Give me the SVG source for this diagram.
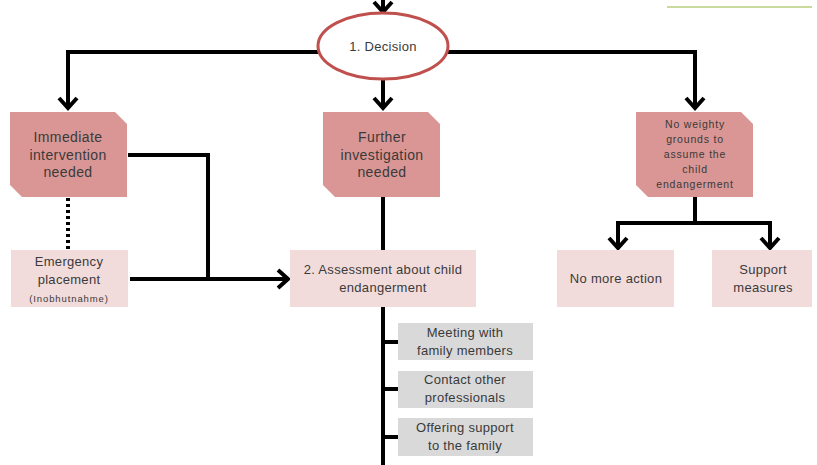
<svg xmlns="http://www.w3.org/2000/svg" width="817" height="465" viewBox="0 0 817 465">
<style>
.dark{fill:#D99694;}
.light{fill:#F2DCDB;}
.gray{fill:#D9D9D9;}
.t{font-family:"Liberation Sans",Arial,sans-serif;fill:#3a3a3a;text-anchor:middle;}
.big{font-size:14px;letter-spacing:0.4px;}
.med{font-size:13px;letter-spacing:0.3px;}
.sm{font-size:10.5px;letter-spacing:0.8px;}
.xs{font-size:9.5px;letter-spacing:0.9px;}
.ln{fill:none;stroke:#000;stroke-width:4;}
.arw{marker-end:url(#arr);}
.dot{fill:none;stroke:#000;stroke-width:4;stroke-dasharray:3 3;}
</style>
<defs>
<marker id="arr" viewBox="-14 -12 16 24" markerWidth="16" markerHeight="24" refX="0" refY="0" orient="auto" markerUnits="userSpaceOnUse">
<path d="M-11,-9 L-1,0 L-11,9" fill="none" stroke="#000" stroke-width="4"/>
</marker>
</defs>
<rect x="0" y="0" width="817" height="465" fill="#fff"/>
<line x1="667" y1="7" x2="812" y2="7" stroke="#C8DA9E" stroke-width="2"/>
<g id="connectors">
<path class="ln arw" d="M383,0 V13"/>
<path class="ln arw" d="M318,52 H68 V109"/>
<path class="ln arw" d="M383,80 V109"/>
<path class="ln arw" d="M447,52 H695 V109"/>
<path class="dot" d="M68,198 V250"/>
<path class="ln" d="M128,155 H208 V279"/>
<path class="ln arw" d="M130,279 H289"/>
<path class="ln" d="M383,197 V250"/>
<path class="ln" d="M383,307 V465"/>
<path class="ln" d="M383,342 H398 M383,389 H398 M383,437 H398"/>
<path class="ln" d="M695,197 V223"/>
<path class="ln arw" d="M618,223 V249"/>
<path class="ln arw" d="M770,223 V249"/>
<path class="ln" d="M616,223 H772"/>
</g>
<g id="decision">
<ellipse cx="383" cy="46" rx="65" ry="33" fill="#fff" stroke="#C0504D" stroke-width="3"/>
<text class="t med" x="383" y="51">1. Decision</text>
</g>
<g id="immediate">
<path class="dark" d="M10,112 H115 L127,124 V197 H22 L10,185 Z"/>
<text class="t big" x="68" y="142">Immediate</text>
<text class="t big" x="68" y="160">intervention</text>
<text class="t big" x="68" y="177">needed</text>
</g>
<g id="further">
<path class="dark" d="M323,112 H428 L440,124 V197 H335 L323,185 Z"/>
<text class="t big" x="382" y="142">Further</text>
<text class="t big" x="382" y="160">investigation</text>
<text class="t big" x="382" y="177">needed</text>
</g>
<g id="noweighty">
<path class="dark" d="M636,112 H741 L753,124 V197 H648 L636,185 Z"/>
<text class="t sm" x="695" y="128">No weighty</text>
<text class="t sm" x="695" y="143">grounds to</text>
<text class="t sm" x="695" y="158">assume the</text>
<text class="t sm" x="695" y="173">child</text>
<text class="t sm" x="695" y="188">endangerment</text>
</g>
<g id="emergency">
<rect class="light" x="11" y="250" width="117" height="57"/>
<text class="t med" x="69" y="266">Emergency</text>
<text class="t med" x="69" y="284">placement</text>
<text class="t xs" x="69" y="302">(Inobhutnahme)</text>
</g>
<g id="assessment">
<rect class="light" x="290" y="250" width="186" height="57"/>
<text class="t med" x="383" y="274">2. Assessment about child</text>
<text class="t med" x="383" y="292">endangerment</text>
</g>
<g id="meeting">
<rect class="gray" x="398" y="323" width="135" height="37"/>
<text class="t med" x="465" y="337">Meeting with</text>
<text class="t med" x="465" y="355">family members</text>
</g>
<g id="contact">
<rect class="gray" x="398" y="371" width="135" height="37"/>
<text class="t med" x="465" y="384">Contact other</text>
<text class="t med" x="465" y="402">professionals</text>
</g>
<g id="offering">
<rect class="gray" x="398" y="418" width="135" height="38"/>
<text class="t med" x="465" y="432">Offering support</text>
<text class="t med" x="465" y="450">to the family</text>
</g>
<g id="nomore">
<rect class="light" x="557" y="250" width="117" height="57"/>
<text class="t med" x="616" y="283">No more action</text>
</g>
<g id="support">
<rect class="light" x="712" y="250" width="100" height="57"/>
<text class="t med" x="763" y="274">Support</text>
<text class="t med" x="763" y="292">measures</text>
</g>
</svg>
